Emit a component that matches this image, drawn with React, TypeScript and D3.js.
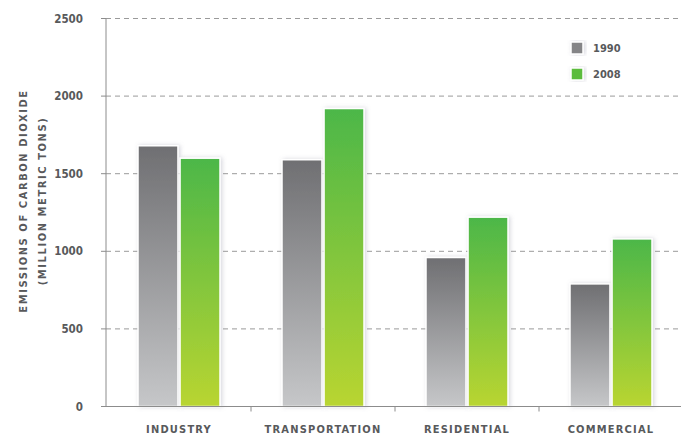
import React from 'react';
import * as d3 from 'd3';

const categories = ['INDUSTRY', 'TRANSPORTATION', 'RESIDENTIAL', 'COMMERCIAL'];
const years = ['1990', '2008'];
const values1990 = [1680, 1590, 960, 790];
const values2008 = [1600, 1920, 1220, 1080];
const yTicks = [0, 500, 1000, 1500, 2000, 2500];

const W = 681;
const H = 437;
const font = '"DejaVu Sans Condensed", "DejaVu Sans", sans-serif';
const textColor = '#58595b';

const App: React.FC = () => {
  const y = d3.scaleLinear().domain([0, 2500]).range([406.5, 18.5]);
  const x = d3.scaleBand<string>().domain(categories).range([107, 683]).padding(0);
  const x1 = d3.scaleBand<string>().domain(years).range([-41, 41]).paddingInner(0.05);
  const series = [values1990, values2008];
  const fills = ['url(#grayGrad)', 'url(#greenGrad)'];

  return (
    <svg width={W} height={H} style={{ position: 'absolute', left: 0, top: 0, background: '#fff' }}>
      <defs>
        <linearGradient id="grayGrad" x1="0" y1="0" x2="0" y2="1">
          <stop offset="0%" stopColor="#6f6f72" />
          <stop offset="100%" stopColor="#c6c7c9" />
        </linearGradient>
        <linearGradient id="greenGrad" x1="0" y1="0" x2="0" y2="1">
          <stop offset="0%" stopColor="#4cb748" />
          <stop offset="100%" stopColor="#b9d531" />
        </linearGradient>
        <filter id="shadow" x="-30%" y="-10%" width="160%" height="120%">
          <feDropShadow dx="1.5" dy="0" stdDeviation="2" floodColor="#8a8aa0" floodOpacity="0.35" />
        </filter>
      </defs>

      {/* grid */}
      {yTicks.filter(t => t > 0).map(t => (
        <line key={t} x1={106} x2={W} y1={y(t)} y2={y(t)} stroke="#9a9a9a" strokeWidth={1} strokeDasharray="5 4" />
      ))}

      {/* bars */}
      {categories.map((c, i) => {
        const cx = (x(c) || 0) + x.bandwidth() / 2;
        return years.map((yr, j) => (
          <rect
            key={c + yr}
            x={cx + (x1(yr) || 0)}
            y={y(series[j][i])}
            width={x1.bandwidth()}
            height={y(0) - y(series[j][i])}
            fill={fills[j]}
            stroke="#fff"
            strokeWidth={1.5}
            filter="url(#shadow)"
          />
        ));
      })}

      {/* axes */}
      <line x1={106} x2={106} y1={y(2500)} y2={y(0)} stroke="#8c8c8c" strokeWidth={1} />
      <line x1={106} x2={W} y1={y(0)} y2={y(0)} stroke="#8c8c8c" strokeWidth={1} />
      {yTicks.map(t => (
        <g key={t}>
          <line x1={101} x2={106} y1={y(t)} y2={y(t)} stroke="#8c8c8c" />
          <text x={83} y={y(t)} dy="0.36em" textAnchor="end" fontFamily={font} fontWeight="bold" fontSize={11.5} fill={textColor}>
            {t}
          </text>
        </g>
      ))}
      {categories.map((c, i) => (
        <g key={c}>
          {i > 0 && <line x1={x(c)} x2={x(c)} y1={y(0)} y2={y(0) + 5} stroke="#8c8c8c" />}
          <text x={(x(c) || 0) + x.bandwidth() / 2} y={433} textAnchor="middle" fontFamily={font} fontWeight="bold" fontSize={11} letterSpacing={1.2} fill={textColor}>
            {c}
          </text>
        </g>
      ))}

      {/* y title */}
      <g transform="translate(27,201) rotate(-90)">
        <text x={0} y={0} textAnchor="middle" fontFamily={font} fontWeight="bold" fontSize={11} letterSpacing={1.6} fill={textColor}>
          EMISSIONS OF CARBON DIOXIDE
        </text>
        <text x={0} y={19} textAnchor="middle" fontFamily={font} fontWeight="bold" fontSize={11} letterSpacing={1.6} fill={textColor}>
          (MILLION METRIC TONS)
        </text>
      </g>

      {/* legend */}
      {years.map((yr, j) => (
        <g key={yr} transform={`translate(571,${42 + j * 26})`}>
          <rect width={12} height={12} fill={j === 0 ? '#858587' : '#5cbc3c'} stroke="#fff" strokeWidth={1.5} filter="url(#shadow)" />
          <text x={22} y={6} dy="0.36em" fontFamily={font} fontWeight="bold" fontSize={11} fill={textColor}>
            {yr}
          </text>
        </g>
      ))}
    </svg>
  );
};

export default App;
